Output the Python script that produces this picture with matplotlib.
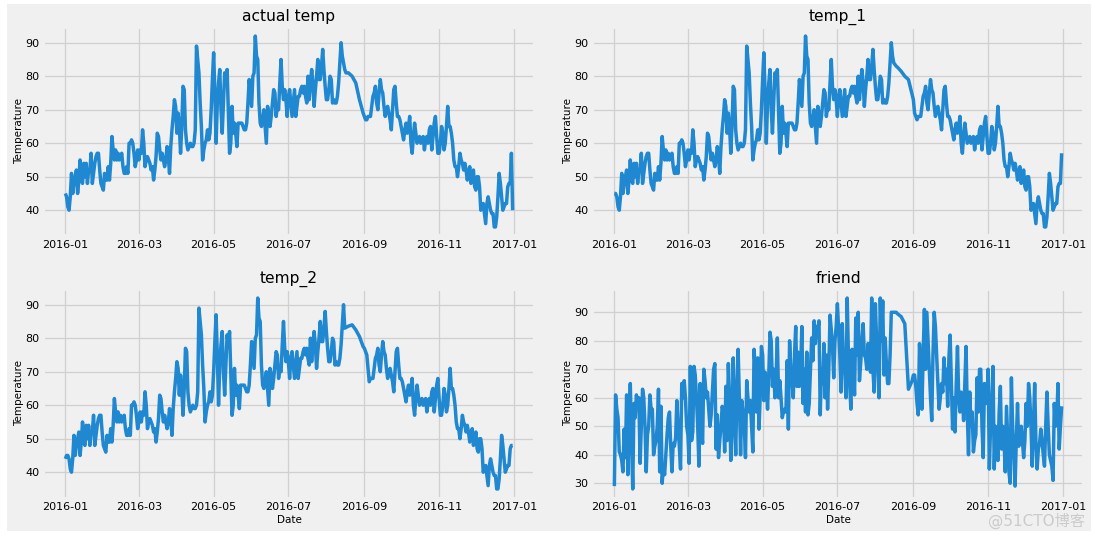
#!/usr/bin/python3

# plot.py
#
# Four panels of daily temperature for 2016, with the fivethirtyeight look.
import datetime
import matplotlib
matplotlib.use('Agg')
import matplotlib.dates
import matplotlib.patches
import matplotlib.pyplot as plt

actual_jan = [45, 44, 41, 40, 44, 51, 45, 48, 50, 52, 45, 49, 55, 49, 48, 54, 50, 54, 48, 52, 52, 57, 48, 51, 54, 56, 57, 57, 52, 48, 47]
actual_feb = [46, 51, 49, 49, 53, 49, 54, 62, 58, 55, 58, 55, 57, 55, 56, 57, 53, 51, 51, 53, 51, 60, 60, 61, 60, 57, 53, 55, 58]
actual_mar = [55, 58, 57, 64, 60, 53, 55, 56, 55, 54, 52, 53, 49, 52, 56, 63, 62, 58, 55, 57, 55, 53, 55, 59, 56, 51, 59, 64, 68, 73, 71]
actual_apr = [63, 69, 65, 57, 65, 77, 76, 64, 60, 58, 59, 60, 59, 59, 60, 64, 89, 85, 81, 72, 65, 55, 58, 60, 61, 64, 61, 63, 70, 79]
actual_may = [87, 75, 60, 72, 78, 82, 70, 63, 72, 81, 78, 82, 70, 57, 60, 71, 63, 66, 63, 59, 66, 66, 66, 66, 65, 64, 64, 66, 72, 79, 75]
actual_jun = [71, 80, 81, 92, 86, 85, 72, 66, 65, 67, 70, 65, 60, 71, 69, 65, 68, 72, 76, 75, 68, 71, 70, 78, 85, 77, 73, 76, 73, 68]
actual_jul = [74, 76, 72, 68, 72, 76, 68, 71, 74, 74, 76, 77, 75, 77, 74, 72, 80, 73, 78, 82, 78, 71, 76, 80, 85, 79, 79, 83, 88, 82, 77]
actual_aug = [73, 73, 76, 80, 79, 72, 73, 72, 72, 74, 78, 84, 90, 86, 84, 82, 81, 81]
actual_sep = [68, 67, 67, 68, 68, 68, 71, 74, 75, 77, 72, 70, 75, 79, 76, 75, 71, 68, 70, 71, 69, 67, 64, 70, 76, 77, 72, 68, 68, 67]
actual_oct = [65, 63, 61, 64, 66, 63, 65, 68, 60, 57, 62, 66, 63, 60, 61, 62, 60, 61, 62, 58, 61, 62, 60, 64, 65, 58, 62, 66, 68, 62, 57]
actual_nov = [57, 60, 65, 63, 58, 60, 65, 71, 65, 65, 63, 60, 55, 53, 53, 50, 53, 57, 55, 54, 52, 54, 52, 49, 51, 53, 48, 50, 52, 47]
actual_dec = [46, 50, 50, 47, 40, 41, 42, 39, 36, 42, 44, 42, 40, 39, 39, 35, 35, 38, 44, 51, 48, 44, 40, 41, 42, 42, 47, 48, 48, 57, 40]

# The friend's guess, same days
friend_jan = [29, 61, 56, 53, 41, 40, 38, 34, 49, 39, 61, 33, 50, 65, 45, 28, 58, 53, 61, 57, 60, 37, 50, 63, 60, 50, 34, 47, 50, 61, 56]
friend_feb = [56, 40, 43, 45, 50, 63, 34, 57, 30, 36, 33, 40, 47, 53, 55, 43, 34, 44, 43, 46, 59, 50, 43, 35, 65, 60, 66, 60, 50]
friend_mar = [47, 37, 71, 45, 48, 71, 68, 60, 50, 36, 65, 50, 44, 70, 66, 60, 62, 56, 50, 54, 62, 70, 72, 42, 54, 39, 45, 50, 57, 55, 41]
friend_apr = [64, 45, 72, 60, 38, 50, 74, 55, 40, 62, 77, 60, 40, 59, 55, 50, 39, 66, 60, 55, 59, 50, 41, 77, 70, 55, 74, 49, 60, 78]
friend_may = [75, 59, 69, 65, 56, 68, 83, 80, 64, 70, 60, 68, 81, 60, 66, 60, 53, 55, 56, 55, 73, 49, 80, 70, 66, 60, 75, 85, 64, 76, 64]
friend_jun = [70, 85, 58, 70, 55, 76, 54, 58, 70, 81, 73, 87, 79, 85, 84, 87, 54, 70, 65, 79, 60, 75, 56, 70, 89, 84, 78, 67, 80, 85]
friend_jul = [93, 84, 75, 62, 86, 72, 70, 60, 95, 75, 65, 56, 77, 70, 61, 88, 75, 90, 66, 72, 80, 86, 75, 74, 70, 79, 75, 69, 95, 70, 62]
friend_aug = [93, 80, 70, 60, 95, 80, 94, 68, 81, 72, 65, 65, 75, 90, 90, 90, 90, 90]
friend_sep = [68, 68, 64, 58, 54, 79, 70, 56, 75, 91, 70, 90, 80, 70, 60, 52, 75, 90, 85, 75, 65, 56, 60, 65, 62, 74, 65, 70, 57, 74]
friend_oct = [82, 65, 49, 60, 48, 65, 78, 60, 55, 62, 60, 52, 65, 78, 55, 40, 62, 50, 55, 41, 45, 47, 67, 55, 70, 70, 50, 39, 65, 62, 58]
friend_nov = [70, 35, 50, 60, 71, 35, 50, 45, 38, 55, 64, 42, 50, 45, 34, 57, 45, 34, 30, 67, 50, 40, 29, 45, 58, 43, 45, 50, 45, 39]
friend_dec = [45, 58, 50, 65, 60, 50, 36, 50, 65, 45, 35, 42, 44, 49, 45, 40, 36, 50, 62, 50, 40, 38, 36, 31, 58, 50, 52, 65, 42, 50, 57]

# Few samples exist in late August, so those days are listed on their own
gap_days = [19, 22, 25, 28, 31]
actual_gap = [81, 80, 78, 73, 69]
temp_1_gap = [82.7, 81.5, 80, 79, 74.5]
temp_2_gap = [83.6, 84, 82.5, 80.5, 77.5]
friend_gap = [89.5, 88.5, 86, 63, 66]

# The lagged columns do not follow the measured days around the gap
temp_1_first = [45]
temp_2_first = [44, 45]
temp_1_tail = [83.5, 83]
temp_2_tail = [83, 83.2, 83.4]
temp_1_restart = [73, 69, 68]
temp_2_restart = [77, 76, 75, 71]

titles = ['actual temp', 'temp_1', 'temp_2', 'friend']
month_ticks = (1, 3, 5, 7, 9, 11)


def get_dates():
  start = datetime.datetime(2016, 1, 1)
  dates = [start + datetime.timedelta(days=x) for x in range(231)]
  dates += [datetime.datetime(2016, 8, day) for day in gap_days]
  start = datetime.datetime(2016, 9, 1)
  dates += [start + datetime.timedelta(days=x) for x in range(122)]
  return dates


def main():
  plt.style.use('fivethirtyeight')
  plt.rcParams['font.family'] = ['DejaVu Sans', 'Noto Sans CJK SC']

  early = actual_jan + actual_feb + actual_mar + actual_apr + actual_may + actual_jun + actual_jul + actual_aug
  late = actual_sep + actual_oct + actual_nov + actual_dec
  friend = friend_jan + friend_feb + friend_mar + friend_apr + friend_may + friend_jun + friend_jul + friend_aug \
    + friend_gap + friend_sep + friend_oct + friend_nov + friend_dec

  # Each lagged column repeats the measured value a day or two later
  series = [
    early + actual_gap + late,
    temp_1_first + early[:-3] + temp_1_tail + temp_1_gap + temp_1_restart + late[2:-1],
    temp_2_first + early[:-5] + temp_2_tail + temp_2_gap + temp_2_restart + late[2:-2],
    friend
  ]
  dates = get_dates()

  figure, axes = plt.subplots(2, 2, figsize=(10.95, 5.39), dpi=100)
  figure.patch.set_facecolor('white')
  figure.patches.append(matplotlib.patches.Rectangle((7 / 1095, 1 - 531 / 539), 1084 / 1095, 527 / 539,
    transform=figure.transFigure, figure=figure, facecolor='#f0f0f0', edgecolor='none', zorder=-1))

  lefts, tops = [43 / 1095, 592 / 1095], [1 - 236.5 / 539, 1 - 498.5 / 539]
  for index, ax in enumerate(axes.flat):
    ax.set_position([lefts[index % 2], tops[index // 2], 492 / 1095, 210 / 539])
    ax.plot(dates, series[index], color='#2088d0', linewidth=2.5)
    ax.set_title(titles[index], fontsize=11.2, pad=4.2)
    ax.set_ylabel('Temperature', fontsize=7.5, labelpad=1)
    if index > 1:
      ax.set_xlabel('Date', fontsize=7.5, labelpad=2)
    ax.xaxis.set_major_locator(matplotlib.dates.MonthLocator(bymonth=month_ticks))
    ax.xaxis.set_major_formatter(matplotlib.dates.DateFormatter('%Y-%m'))
    ax.tick_params(labelsize=8, pad=2.5)
    ax.grid(True, color='#d0d0d0', linewidth=0.9)
    ax.patch.set_alpha(0)

  figure.text(0.991, 0.034, '@51CTO博客', ha='right', va='center', fontsize=11, color='#cbcbcb')
  plt.savefig('out.png', dpi=100, facecolor='white')
  plt.close()


if __name__ == '__main__':
  main()
